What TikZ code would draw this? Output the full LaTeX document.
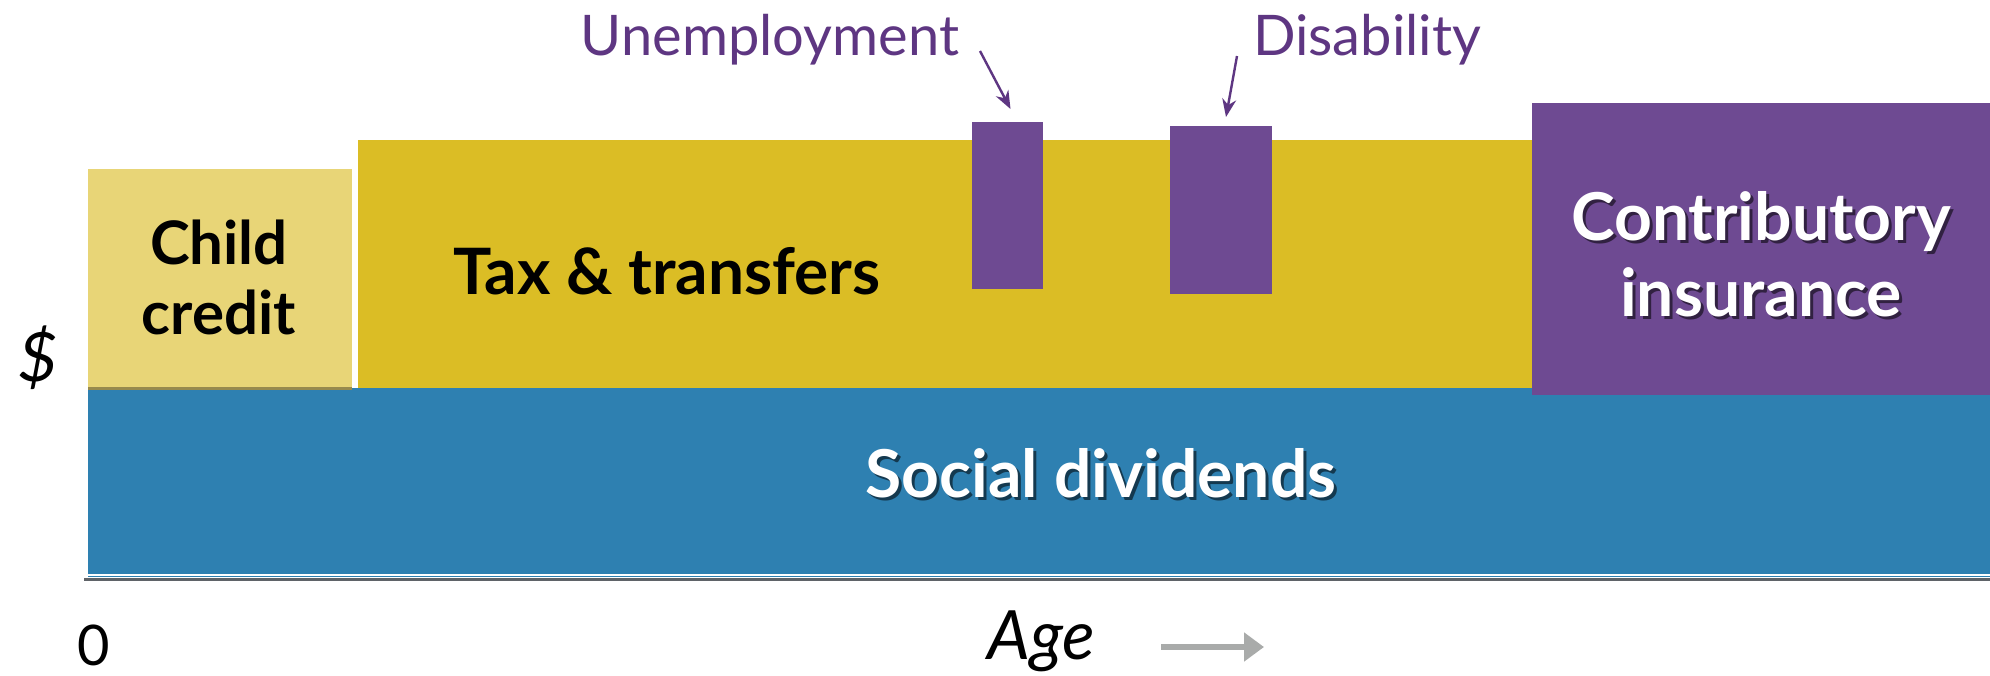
\documentclass[tikz,border=0pt]{standalone}
\usepackage{fontspec}
\setmainfont{Lato}
\usetikzlibrary{arrows.meta}
\definecolor{taxyellow}{HTML}{DBBD25}
\definecolor{childyellow}{HTML}{E8D577}
\definecolor{sdblue}{HTML}{2E80B1}
\definecolor{insurpurple}{HTML}{6E4A92}
\definecolor{labelpurple}{HTML}{5E3682}
\definecolor{axisgray}{HTML}{5F6368}
\definecolor{arrowgray}{HTML}{A9ABAA}
\tikzset{
  x=1pt, y=-1pt,
  block/.style={rectangle, inner sep=0pt, outer sep=0pt, anchor=north west},
  blacklabel/.style={font=\bfseries\fontsize{60}{70}\selectfont, text=black, align=center},
  whitelabel/.style={font=\bfseries\fontsize{66}{76}\selectfont, text=white, align=center},
  shadowlabel/.style={font=\bfseries\fontsize{66}{76}\selectfont, text=black, opacity=0.55, align=center},
  notelabel/.style={font=\fontsize{56}{60}\selectfont, text=labelpurple},
  notearrow/.style={draw=labelpurple, line width=2.4pt, -{Stealth[length=18pt, width=14pt]}},
  axislabel/.style={font=\itshape\fontsize{68}{72}\selectfont, text=black},
}
\begin{document}
\begin{tikzpicture}
\useasboundingbox (0,0) rectangle (1990,675);
\fill[white] (0,0) rectangle (1990,675);

% blocks
\node[block, fill=sdblue, minimum width=1902pt, minimum height=189pt] (sd) at (88,388) {};
\node[block, fill=childyellow, minimum width=264pt, minimum height=219pt] (cc) at (88,169) {};
\draw[draw=black!35!childyellow, line width=3pt] (cc.south west) -- (cc.south east);
\node[block, fill=taxyellow, minimum width=1174pt, minimum height=248pt] (tt) at (358,140) {};
\node[block, fill=insurpurple, minimum width=458pt, minimum height=292pt] (ci) at (1532,103) {};
\node[block, fill=insurpurple, minimum width=71pt, minimum height=167pt] (ub) at (972,122) {};
\node[block, fill=insurpurple, minimum width=102pt, minimum height=168pt] (db) at (1170,126) {};

% axis
\draw[draw=white, line width=1.5pt] (88,575) -- (1990,575);
\draw[draw=axisgray, line width=3.5pt] (84,579.5) -- (1990,579.5);

% block labels
\node[blacklabel] (cclab) at (219,277) {Child\\credit};
\node[blacklabel, font=\bfseries\fontsize{64}{70}\selectfont] (ttlab) at (667,271) {Tax \& transfers};
\node[shadowlabel] at (1764,257) {Contributory\\insurance};
\node[whitelabel] (cilab) at (1761,254) {Contributory\\insurance};
\node[shadowlabel] at (1104,476) {Social dividends};
\node[whitelabel] (sdlab) at (1101,473) {Social dividends};

% annotations
\node[notelabel] (unemp) at (770,40) {Unemployment};
\node[notelabel] (disab) at (1367,40) {Disability};
\coordinate (ustart) at (980,51);
\coordinate (dstart) at (1237,56);
\draw[notearrow] (ustart) -- ([xshift=3pt,yshift=13pt]ub.north);
\draw[notearrow] (dstart) -- ([xshift=5pt,yshift=9pt]db.north);

% axis labels
\node[axislabel] (dollar) at (38,358) {\$};
\node[font=\fontsize{56}{60}\selectfont, inner sep=1pt] (zero) at (94,645) {0};
\node[axislabel] (age) at (1041,641) {Age};
\coordinate (agearrow) at (1161,647);
\coordinate (ageend) at (1264,647);
\draw[draw=arrowgray, line width=6pt, -{Triangle[length=20pt, width=28pt]}] (agearrow) -- (ageend);
\end{tikzpicture}
\end{document}
